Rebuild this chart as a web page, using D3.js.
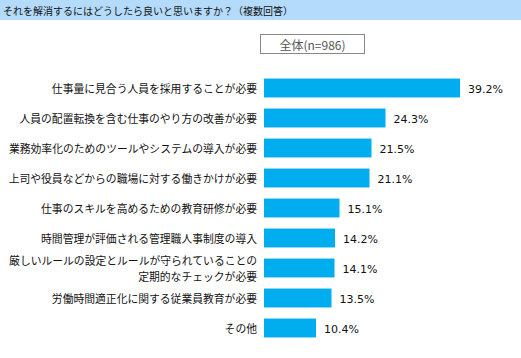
<!DOCTYPE html>
<html>
<head>
<meta charset="utf-8">
<script src="https://cdn.jsdelivr.net/npm/d3@7"></script>
<style>
  body { margin: 0; background: #fff; }
  svg { display: block; }
</style>
</head>
<body>
<div id="chart"></div>
<script>
const width = 521
const height = 358

const title = "それを解消するにはどうしたら良いと思いますか？（複数回答）"
const legendLabel = "全体(n=986)"
const categories = [
    ["仕事量に見合う人員を採用することが必要"],
    ["人員の配置転換を含む仕事のやり方の改善が必要"],
    ["業務効率化のためのツールやシステムの導入が必要"],
    ["上司や役員などからの職場に対する働きかけが必要"],
    ["仕事のスキルを高めるための教育研修が必要"],
    ["時間管理が評価される管理職人事制度の導入"],
    ["厳しいルールの設定とルールが守られていることの", "定期的なチェックが必要"],
    ["労働時間適正化に関する従業員教育が必要"],
    ["その他"]
]
const values = [39.2, 24.3, 21.5, 21.1, 15.1, 14.2, 14.1, 13.5, 10.4]

const jpFont = "'Noto Sans CJK JP', 'Noto Sans', sans-serif"

const svg = d3.select("div#chart").append("svg").attr("width", width).attr("height", height)

// title bar
svg.append("rect").attr("x", 0).attr("y", 0).attr("width", width).attr("height", 20).attr("fill", "#b4dbfb")
svg.append("text").text(title)
    .attr("x", 3).attr("y", 10.5)
    .attr("dominant-baseline", "central")
    .style("font-family", jpFont).style("font-size", "10px").attr("fill", "#111")

// legend box
svg.append("rect").attr("x", 260.5).attr("y", 34.5).attr("width", 104).attr("height", 19)
    .attr("fill", "#fff").attr("stroke", "#888").attr("stroke-width", 1)
svg.append("text").text(legendLabel)
    .attr("x", 312.5).attr("y", 44.5)
    .attr("text-anchor", "middle").attr("dominant-baseline", "central")
    .style("font-family", jpFont).style("font-size", "12px").attr("fill", "#555")

const idx = d3.range(values.length)
const y = d3.scaleBand().domain(idx).range([73, 343]).paddingInner(0.37).paddingOuter(0.185)
const x = d3.scaleLinear().domain([0, 100]).range([264, 764])

const elementGroup = svg.append("g").attr("id", "elementGroup")

elementGroup.selectAll("rect.bar").data(idx).enter().append("rect")
    .attr("class", "bar")
    .attr("x", x(0))
    .attr("y", i => y(i))
    .attr("width", i => x(values[i]) - x(0))
    .attr("height", y.bandwidth())
    .attr("fill", "#00aeef")

elementGroup.selectAll("text.value").data(idx).enter().append("text")
    .attr("class", "value")
    .text(i => values[i].toFixed(1) + "%")
    .attr("x", i => x(values[i]) + 8)
    .attr("y", i => y(i) + y.bandwidth() / 2 + 1)
    .attr("dominant-baseline", "central")
    .style("font-family", "'DejaVu Sans', sans-serif").style("font-size", "11px").attr("fill", "#111")

const labels = elementGroup.selectAll("text.label").data(idx).enter().append("text")
    .attr("class", "label")
    .attr("text-anchor", "end")
    .style("font-family", jpFont).style("font-size", "10.8px").attr("fill", "#111")

labels.each(function (i) {
    const lines = categories[i]
    const cy = y(i) + y.bandwidth() / 2
    d3.select(this).selectAll("tspan").data(lines).enter().append("tspan")
        .attr("x", 257)
        .attr("y", (d, k) => cy + (k - (lines.length - 1) / 2) * 16)
        .attr("dominant-baseline", "central")
        .text(d => d)
})
</script>
</body>
</html>
